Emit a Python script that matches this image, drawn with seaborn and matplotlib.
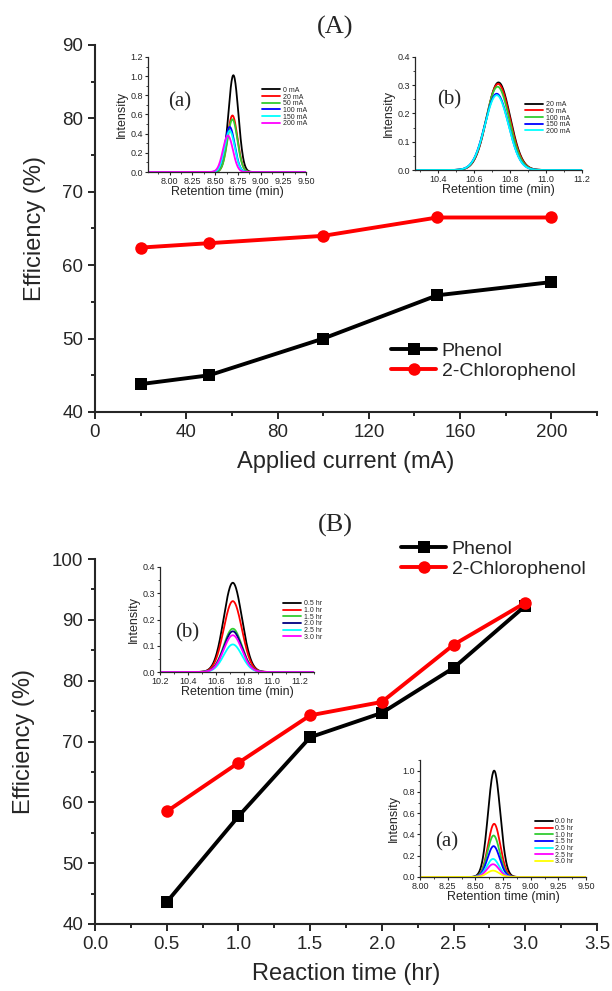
import numpy as np
import pandas as pd
import matplotlib
matplotlib.use('Agg')
import matplotlib.pyplot as plt
import seaborn as sns
from matplotlib.ticker import MultipleLocator, AutoMinorLocator

sns.set_style('ticks')
plt.rcParams['font.family'] = ['Liberation Sans', 'DejaVu Sans']

# ---- panel A: efficiency vs applied current
current = [20, 50, 100, 150, 200]
phenol_A = [43.8, 45.0, 50.0, 55.9, 57.7]
chloro_A = [62.4, 63.0, 64.0, 66.5, 66.5]

# ---- panel B: efficiency vs reaction time
rtime = [0.5, 1.0, 1.5, 2.0, 2.5, 3.0]
phenol_B = [43.6, 57.7, 70.7, 74.7, 82.1, 92.3]
chloro_B = [58.5, 66.5, 74.3, 76.5, 85.9, 92.8]

# ---- chromatogram insets: peak heights / positions
Aa_labels = ['0 mA', '20 mA', '50 mA', '100 mA', '150 mA', '200 mA']
Aa_colors = ['black', 'red', 'limegreen', 'blue', 'cyan', 'magenta']
Aa_height = [1.01, 0.59, 0.55, 0.47, 0.43, 0.38]
Aa_center = [8.70, 8.69, 8.69, 8.66, 8.66, 8.64]

Ab_labels = ['20 mA', '50 mA', '100 mA', '150 mA', '200 mA']
Ab_colors = ['black', 'red', 'limegreen', 'blue', 'cyan']
Ab_height = [0.31, 0.305, 0.295, 0.27, 0.265]
Ab_center = [10.735, 10.733, 10.73, 10.725, 10.725]

Bb_labels = ['0.5 hr', '1.0 hr', '1.5 hr', '2.0 hr', '2.5 hr', '3.0 hr']
Bb_colors = ['black', 'red', 'limegreen', 'navy', 'cyan', 'magenta']
Bb_height = [0.34, 0.27, 0.165, 0.155, 0.105, 0.14]
Bb_center = [10.72, 10.72, 10.72, 10.72, 10.72, 10.72]

Ba_labels = ['0.0 hr', '0.5 hr', '1.0 hr', '1.5 hr', '2.0 hr', '2.5 hr', '3.0 hr']
Ba_colors = ['black', 'red', 'limegreen', 'blue', 'cyan', 'magenta', 'yellow']
Ba_height = [1.0, 0.50, 0.39, 0.29, 0.17, 0.12, 0.06]
Ba_center = [8.67, 8.67, 8.665, 8.665, 8.66, 8.66, 8.66]

serif = ['Liberation Serif', 'DejaVu Serif']
W, H = 612.0, 991.0

fig = plt.figure(figsize=(6.12, 9.91), dpi=100)


def fr(l, t, r, b):
    return [l / W, 1 - b / H, (r - l) / W, (b - t) / H]


def main_panel(rect, x, y1, y2, xlab):
    ax = fig.add_axes(rect)
    df = pd.DataFrame({'x': x * 2, 'y': y1 + y2,
                       'compound': ['Phenol'] * len(x) + ['2-Chlorophenol'] * len(x)})
    sns.lineplot(data=df, x='x', y='y', hue='compound', style='compound',
                 palette={'Phenol': 'black', '2-Chlorophenol': 'red'},
                 markers={'Phenol': 's', '2-Chlorophenol': 'o'}, dashes=False,
                 linewidth=2.8, markersize=9, markeredgewidth=0, ax=ax)
    sns.despine(ax=ax)
    ax.tick_params(which='major', direction='out', length=5, width=1.4, labelsize=13.5)
    ax.tick_params(which='minor', direction='out', length=3, width=1.4)
    for s in ['left', 'bottom']:
        ax.spines[s].set_linewidth(1.5)
    ax.set_xlabel(xlab, fontsize=17, labelpad=7)
    ax.set_ylabel('Efficiency (%)', fontsize=17, labelpad=12)
    return ax


def inset(rect, centers, heights, colors, labels, sigma, xlim, ylim, xstep, ystep,
          xfmt, tag, tagpos, legpos):
    ax = fig.add_axes(rect)
    xs = np.linspace(xlim[0], xlim[1], 400)
    for c, h, col, lab in zip(centers, heights, colors, labels):
        ys = h * np.exp(-0.5 * ((xs - c) / sigma) ** 2)
        sns.lineplot(x=xs, y=ys, color=col, linewidth=1.3, label=lab, ax=ax)
    ax.set_xlim(xlim)
    ax.set_ylim(ylim)
    sns.despine(ax=ax)
    ax.xaxis.set_major_locator(MultipleLocator(xstep))
    ax.yaxis.set_major_locator(MultipleLocator(ystep))
    ax.xaxis.set_minor_locator(AutoMinorLocator(2))
    ax.yaxis.set_minor_locator(AutoMinorLocator(2))
    ax.xaxis.set_major_formatter(xfmt)
    ax.yaxis.set_major_formatter('{x:.1f}')
    ax.tick_params(which='major', direction='out', length=2.5, width=0.8, labelsize=6.5, pad=1)
    ax.tick_params(which='minor', direction='out', length=1.5, width=0.6)
    for s in ['left', 'bottom']:
        ax.spines[s].set_linewidth(0.9)
    ax.set_xlabel('Retention time (min)', fontsize=9, labelpad=0)
    ax.set_ylabel('Intensity', fontsize=9, labelpad=2)
    ax.patch.set_alpha(0)
    ax.text(tagpos[0], tagpos[1], tag, transform=ax.transAxes, family=serif,
            fontsize=15, va='center')
    ax.legend(loc='center left', bbox_to_anchor=legpos, frameon=False, fontsize=5,
              handlelength=2.6, labelspacing=-0.05, handletextpad=0.4, borderpad=0,
              borderaxespad=0)
    return ax


axA = main_panel(fr(95, 45, 597, 412), current, phenol_A, chloro_A, 'Applied current (mA)')
axA.set_xlim(0, 220)
axA.set_ylim(40, 90)
axA.xaxis.set_major_locator(MultipleLocator(40))
axA.xaxis.set_minor_locator(MultipleLocator(20))
axA.yaxis.set_major_locator(MultipleLocator(10))
axA.yaxis.set_minor_locator(MultipleLocator(5))
axA.legend(loc='center left', bbox_to_anchor=(0.59, 0.139), frameon=False, fontsize=14,
           handlelength=2.3, handletextpad=0.3, labelspacing=0.15, borderpad=0,
           borderaxespad=0)

axB = main_panel(fr(95, 559, 597, 924), rtime, phenol_B, chloro_B, 'Reaction time (hr)')
axB.set_xlim(0, 3.5)
axB.set_ylim(40, 100)
axB.xaxis.set_major_locator(MultipleLocator(0.5))
axB.xaxis.set_minor_locator(MultipleLocator(0.25))
axB.yaxis.set_major_locator(MultipleLocator(10))
axB.yaxis.set_minor_locator(MultipleLocator(5))
axB.legend(loc='center left', bbox_to_anchor=(0.61, 1.0), frameon=False, fontsize=14,
           handlelength=2.3, handletextpad=0.3, labelspacing=0.15, borderpad=0,
           borderaxespad=0)

fig.text(335 / W, 1 - 27 / H, '(A)', family=serif, fontsize=19, ha='center', va='center')
fig.text(335 / W, 1 - 525 / H, '(B)', family=serif, fontsize=19, ha='center', va='center')

inset(fr(148, 57, 306, 172), Aa_center, Aa_height, Aa_colors, Aa_labels, 0.055,
      (7.76, 9.5), (0, 1.2), 0.25, 0.2, '{x:.2f}', '(a)', (0.13, 0.61), (0.72, 0.565))
inset(fr(415, 57, 582, 170), Ab_center, Ab_height, Ab_colors, Ab_labels, 0.065,
      (10.27, 11.2), (0, 0.4), 0.2, 0.1, '{x:.1f}', '(b)', (0.13, 0.62), (0.66, 0.46))
inset(fr(160, 567, 314, 672), Bb_center, Bb_height, Bb_colors, Bb_labels, 0.065,
      (10.2, 11.3), (0, 0.4), 0.2, 0.1, '{x:.1f}', '(b)', (0.1, 0.37), (0.8, 0.49))
inset(fr(420, 760, 586, 877), Ba_center, Ba_height, Ba_colors, Ba_labels, 0.055,
      (8.0, 9.5), (0, 1.1), 0.25, 0.2, '{x:.2f}', '(a)', (0.09, 0.3), (0.69, 0.3))

fig.savefig('out.png', dpi=100)
